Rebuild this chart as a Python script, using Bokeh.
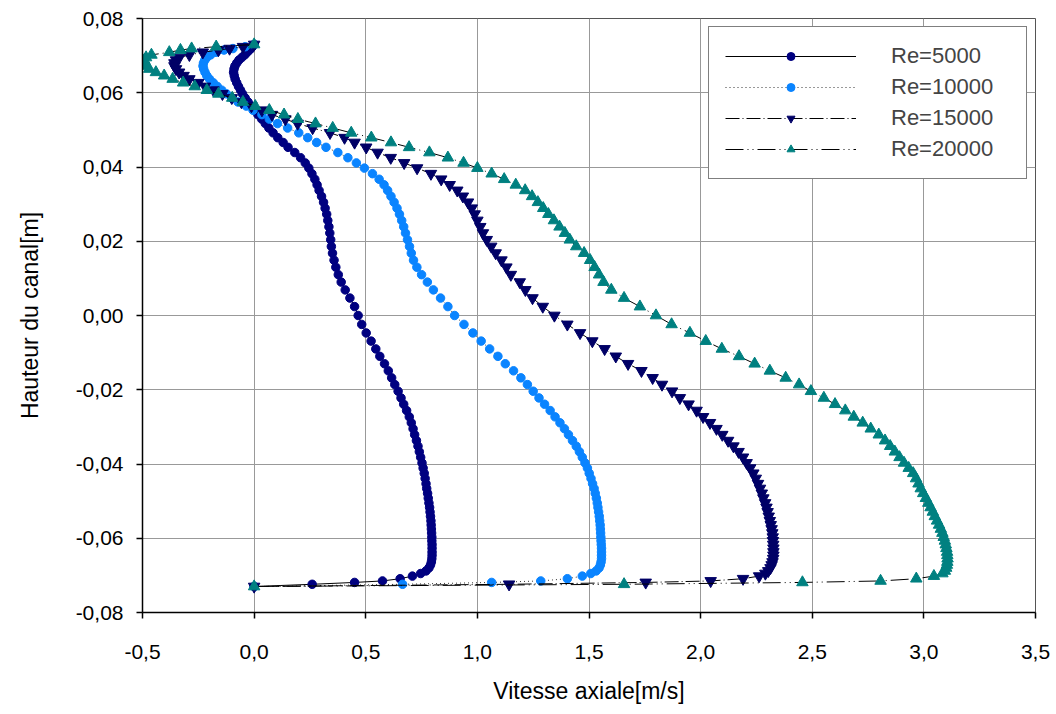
from bokeh.plotting import figure
from bokeh.models import Range1d, FixedTicker, CustomJSTickFormatter, Legend, LegendItem
from bokeh.embed import file_html
from bokeh.resources import INLINE

# ---------------- data ----------------
# channel height positions [m] (top wall -> bottom wall)
Y = [0.0730, 0.0724, 0.0719, 0.0715, 0.0709, 0.0702, 0.0695, 0.0688, 0.0680, 0.0672,
     0.0664, 0.0655, 0.0646, 0.0637, 0.0627, 0.0617, 0.0607, 0.0597, 0.0586, 0.0575,
     0.0564, 0.0553, 0.0541, 0.0529, 0.0517, 0.0505, 0.0492, 0.0479, 0.0466, 0.0453,
     0.0439, 0.0425, 0.0411, 0.0397, 0.0382, 0.0367, 0.0352, 0.0337, 0.0321, 0.0305,
     0.0289, 0.0273, 0.0256, 0.0239, 0.0222, 0.0204, 0.0186, 0.0168, 0.0149, 0.0130,
     0.0110, 0.0090, 0.0069, 0.0047, 0.0024, 0.0000,
     -0.0024, -0.0047, -0.0069, -0.0090, -0.0110, -0.0130, -0.0149, -0.0168, -0.0186, -0.0204,
     -0.0222, -0.0239, -0.0256, -0.0273, -0.0289, -0.0305, -0.0321, -0.0337, -0.0352, -0.0367,
     -0.0382, -0.0397, -0.0411, -0.0425, -0.0439, -0.0453, -0.0466, -0.0479, -0.0492, -0.0505,
     -0.0517, -0.0529, -0.0541, -0.0553, -0.0564, -0.0575, -0.0586, -0.0597, -0.0607, -0.0617,
     -0.0627, -0.0637, -0.0646, -0.0655, -0.0664, -0.0672, -0.0680, -0.0688, -0.0695, -0.0702,
     -0.0709, -0.0715, -0.0719, -0.0724, -0.0730]

# axial velocity [m/s]
V_RE5000 = [0, -0.008, -0.015, -0.021, -0.031, -0.042, -0.055, -0.068, -0.078, -0.086,
            -0.090, -0.092, -0.089, -0.085, -0.078, -0.070, -0.061, -0.052, -0.040, -0.027,
            -0.013, 0.001, 0.017, 0.034, 0.050, 0.066, 0.085, 0.106, 0.130, 0.152,
            0.182, 0.208, 0.229, 0.245, 0.259, 0.272, 0.282, 0.291, 0.302, 0.311,
            0.318, 0.325, 0.330, 0.335, 0.339, 0.343, 0.346, 0.351, 0.358, 0.366,
            0.377, 0.390, 0.408, 0.429, 0.450, 0.466,
            0.482, 0.502, 0.524, 0.545, 0.563, 0.584, 0.601, 0.616, 0.630, 0.645,
            0.658, 0.670, 0.683, 0.695, 0.704, 0.712, 0.719, 0.727, 0.734, 0.740,
            0.746, 0.752, 0.757, 0.762, 0.766, 0.770, 0.773, 0.777, 0.780, 0.783,
            0.786, 0.788, 0.790, 0.792, 0.793, 0.794, 0.795, 0.796, 0.796, 0.797,
            0.797, 0.797, 0.797, 0.796, 0.794, 0.790, 0.783, 0.770, 0.746, 0.709,
            0.654, 0.575, 0.450, 0.260, 0]

V_RE10000 = [0, -0.040, -0.095, -0.135, -0.170, -0.195, -0.212, -0.221, -0.227, -0.229,
             -0.226, -0.220, -0.212, -0.200, -0.183, -0.165, -0.145, -0.124, -0.100, -0.072,
             -0.035, -0.005, 0.035, 0.068, 0.105, 0.150, 0.200, 0.240, 0.280, 0.322,
             0.375, 0.420, 0.458, 0.494, 0.530, 0.560, 0.582, 0.598, 0.613, 0.627,
             0.640, 0.651, 0.661, 0.670, 0.678, 0.687, 0.696, 0.704, 0.714, 0.729,
             0.750, 0.776, 0.803, 0.835, 0.868, 0.898,
             0.940, 0.980, 1.017, 1.055, 1.092, 1.125, 1.162, 1.195, 1.224, 1.250,
             1.276, 1.301, 1.326, 1.348, 1.370, 1.390, 1.408, 1.426, 1.443, 1.457,
             1.470, 1.482, 1.493, 1.501, 1.509, 1.516, 1.523, 1.528, 1.533, 1.537,
             1.540, 1.543, 1.546, 1.548, 1.550, 1.551, 1.552, 1.553, 1.554, 1.555,
             1.556, 1.556, 1.556, 1.556, 1.554, 1.551, 1.545, 1.532, 1.508, 1.470,
             1.403, 1.284, 1.064, 0.665, 0]

V_RE15000 = [0, -0.050, -0.110, -0.160, -0.230, -0.290, -0.335, -0.350, -0.357, -0.357,
             -0.350, -0.336, -0.316, -0.290, -0.250, -0.220, -0.182, -0.142, -0.100, -0.057,
             -0.012, 0.035, 0.080, 0.140, 0.195, 0.262, 0.340, 0.405, 0.450, 0.502,
             0.553, 0.612, 0.672, 0.730, 0.792, 0.838, 0.876, 0.910, 0.935, 0.958,
             0.975, 0.988, 1.000, 1.013, 1.025, 1.042, 1.062, 1.082, 1.108, 1.130,
             1.150, 1.190, 1.215, 1.247, 1.293, 1.345,
             1.403, 1.460, 1.515, 1.570, 1.620, 1.675, 1.735, 1.785, 1.827, 1.872,
             1.907, 1.946, 1.982, 2.011, 2.042, 2.071, 2.097, 2.123, 2.147, 2.170,
             2.190, 2.206, 2.222, 2.236, 2.247, 2.257, 2.266, 2.274, 2.281, 2.289,
             2.295, 2.300, 2.305, 2.310, 2.314, 2.318, 2.321, 2.323, 2.324, 2.325,
             2.326, 2.326, 2.326, 2.325, 2.322, 2.318, 2.313, 2.303, 2.290, 2.262,
             2.190, 2.045, 1.754, 1.142, 0]

V_RE20000 = [0, -0.170, -0.280, -0.330, -0.380, -0.460, -0.484, -0.492, -0.495, -0.486,
             -0.470, -0.440, -0.403, -0.365, -0.318, -0.266, -0.212, -0.160, -0.098, -0.050,
             0.005, 0.068, 0.134, 0.196, 0.275, 0.352, 0.435, 0.525, 0.613, 0.694,
             0.785, 0.868, 0.938, 1.000, 1.064, 1.120, 1.172, 1.214, 1.245, 1.271,
             1.295, 1.318, 1.343, 1.368, 1.392, 1.414, 1.443, 1.478, 1.505, 1.525,
             1.545, 1.565, 1.600, 1.657, 1.728, 1.800,
             1.870, 1.952, 2.023, 2.095, 2.172, 2.242, 2.310, 2.381, 2.441, 2.494,
             2.552, 2.602, 2.648, 2.686, 2.726, 2.762, 2.798, 2.826, 2.849, 2.870,
             2.891, 2.911, 2.932, 2.952, 2.965, 2.976, 2.986, 2.997, 3.009, 3.020,
             3.030, 3.040, 3.049, 3.059, 3.068, 3.076, 3.083, 3.089, 3.094, 3.098,
             3.101, 3.104, 3.105, 3.106, 3.105, 3.103, 3.100, 3.094, 3.083, 3.045,
             2.966, 2.806, 2.456, 1.657, 0]

LABELS = ["Re=5000", "Re=10000", "Re=15000", "Re=20000"]
X_TICKS = [-0.5, 0.0, 0.5, 1.0, 1.5, 2.0, 2.5, 3.0, 3.5]
Y_TICKS = [-0.08, -0.06, -0.04, -0.02, 0.0, 0.02, 0.04, 0.06, 0.08]

for s in (V_RE5000, V_RE10000, V_RE15000, V_RE20000):
    assert len(s) == len(Y), (len(s), len(Y))

# ---------------- styles ----------------
STYLES = [
    dict(marker="circle", color="#000080", size=8.5, dash="solid", lcolor="black"),
    dict(marker="circle", color="#0A84FF", size=8.5, dash="1 3", lcolor="#333333"),
    dict(marker="inverted_triangle", color="#000066", size=11.5, dash="14 3 1 3", lcolor="black"),
    dict(marker="triangle", color="#008080", size=11.5, dash="18 4 1 4 1 4", lcolor="black"),
]
FONT = "Liberation Sans"

p = figure(width=1056, height=714, output_backend="svg", toolbar_location=None,
           title=None,
           x_range=Range1d(-0.5, 3.5), y_range=Range1d(-0.08, 0.08),
           min_border_left=142, min_border_right=21, min_border_top=18,
           min_border_bottom=102)
p.background_fill_color = "white"
p.border_fill_color = "white"
p.outline_line_color = "#555555"
p.outline_line_width = 1

# axes
p.xaxis.ticker = FixedTicker(ticks=X_TICKS)
p.yaxis.ticker = FixedTicker(ticks=Y_TICKS)
p.xgrid.ticker = FixedTicker(ticks=X_TICKS)
p.ygrid.ticker = FixedTicker(ticks=Y_TICKS)
p.xaxis.formatter = CustomJSTickFormatter(code="return tick.toFixed(1).replace('.', ',');")
p.yaxis.formatter = CustomJSTickFormatter(code="return tick.toFixed(2).replace('.', ',');")
for ax in (p.xaxis[0], p.yaxis[0]):
    ax.axis_line_color = "black"
    ax.axis_line_width = 1.5
    ax.major_tick_line_color = "black"
    ax.major_tick_line_width = 1.5
    ax.major_tick_out = 6
    ax.major_tick_in = 0
    ax.minor_tick_line_color = None
    ax.major_label_text_font = FONT
    ax.major_label_text_font_size = "21px"
    ax.major_label_text_color = "black"
    ax.axis_label_text_font = FONT
    ax.axis_label_text_font_size = "23px"
    ax.axis_label_text_font_style = "normal"
    ax.axis_label_text_color = "black"
p.xaxis.axis_label = "Vitesse axiale[m/s]"
p.yaxis.axis_label = "Hauteur du canal[m]"
p.xaxis.major_label_standoff = 26
p.yaxis.major_label_standoff = 13
p.xaxis.axis_label_standoff = 16
p.yaxis.axis_label_standoff = 30

for g in (p.xgrid[0], p.ygrid[0]):
    g.grid_line_color = "#999999"
    g.grid_line_width = 1

# series
items = []
for label, vals, st in zip(LABELS, [V_RE5000, V_RE10000, V_RE15000, V_RE20000], STYLES):
    lr = p.line(vals, Y, line_color=st["lcolor"], line_width=1, line_dash=st["dash"])
    sr = p.scatter(vals, Y, marker=st["marker"], size=st["size"],
                   fill_color=st["color"], line_color=st["color"])
    items.append(LegendItem(label=label, renderers=[lr, sr]))

legend = Legend(items=items, location="top_right", glyph_width=131, glyph_height=20,
                label_width=119, label_height=20, label_standoff=35, spacing=5,
                padding=16, margin=8, border_line_color="black", border_line_width=1.5,
                label_text_font=FONT, label_text_font_size="22px",
                background_fill_color="white", background_fill_alpha=1.0)
p.add_layout(legend)

open("out.html", "w").write(file_html(p, INLINE))
